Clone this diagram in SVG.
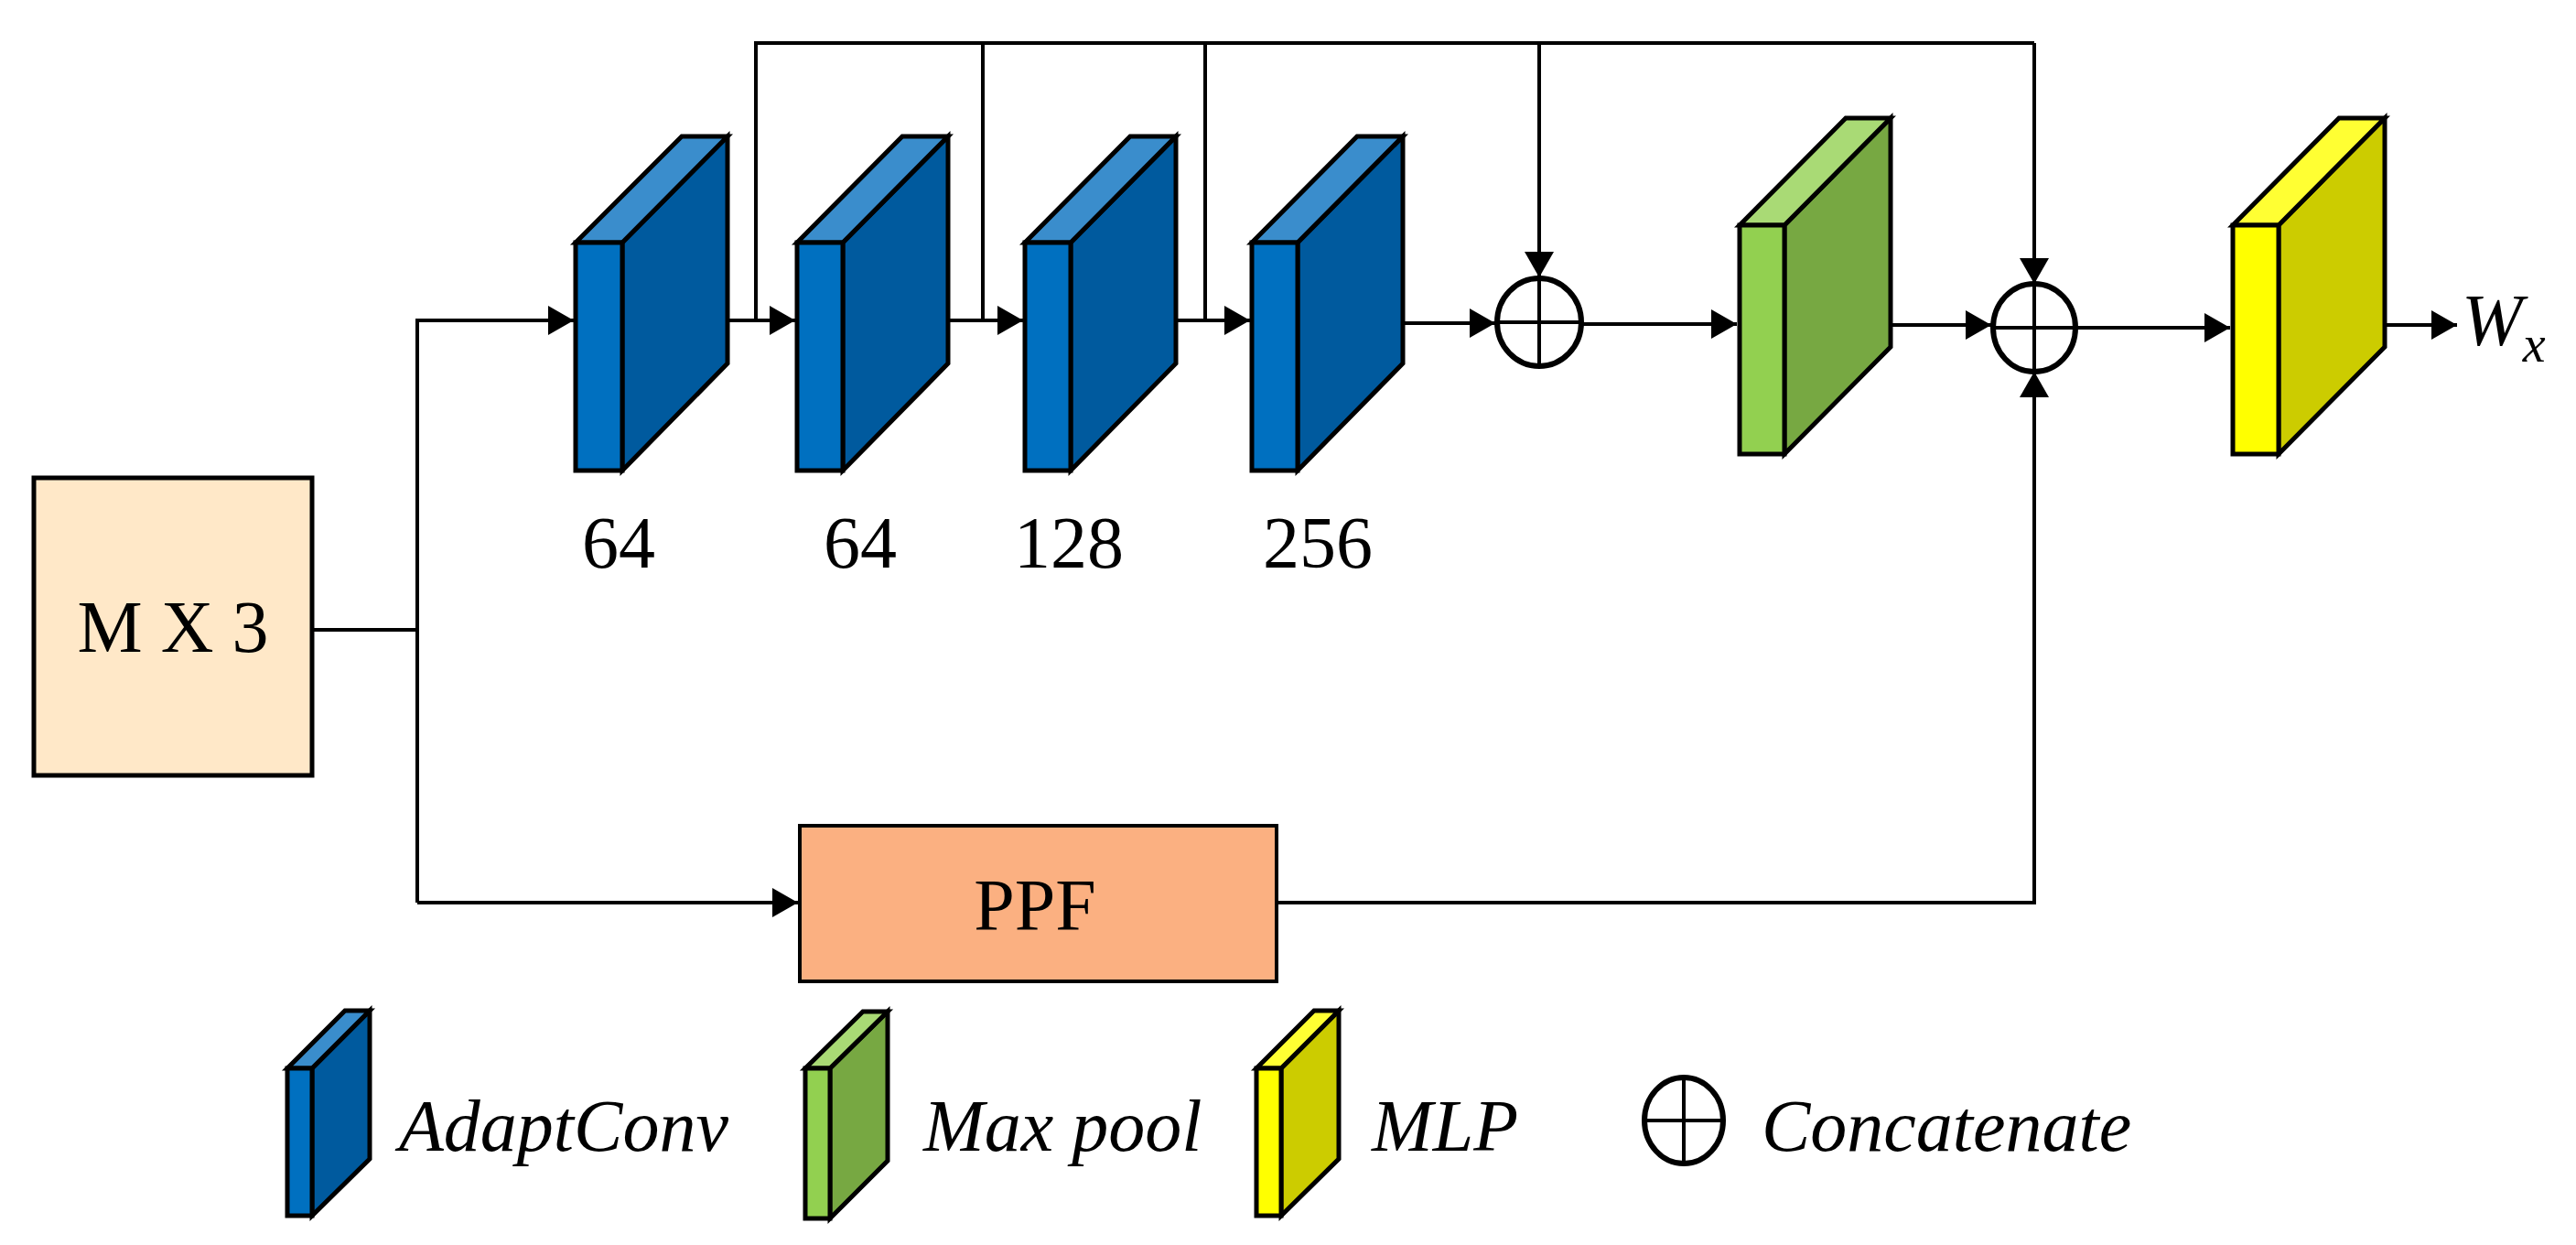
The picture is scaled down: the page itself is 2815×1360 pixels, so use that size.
<svg xmlns="http://www.w3.org/2000/svg" width="2815" height="1360" viewBox="0 0 2815 1360">
<style>
.ln{fill:none;stroke:#000;stroke-width:4}
.ar{fill:none;stroke:#000;stroke-width:4;marker-end:url(#ah)}
.bk{stroke:#000;stroke-width:5;stroke-linejoin:miter}
.t{font-family:"Liberation Serif",serif;font-size:80px;fill:#000}
.i{font-family:"Liberation Serif",serif;font-size:80px;font-style:italic;fill:#000}
.bf{fill:#0070C0}.bs{fill:#005A9E}.bt{fill:#3A8DCC}
.gf{fill:#92D050}.gs{fill:#77A842}.gt{fill:#A9DA75}
.yf{fill:#FFFF00}.ys{fill:#CCCC00}.yt{fill:#FFFF33}
</style>
<defs>
<marker id="ah" markerUnits="userSpaceOnUse" markerWidth="30" markerHeight="34" refX="28" refY="16" orient="auto"><path d="M0,0 L28,16 L0,32 z" fill="#000"/></marker>
<symbol id="blk" overflow="visible"><!-- unused --></symbol>
</defs>
<rect width="2815" height="1360" fill="#fff"/>

<g id="connectors">
<polyline class="ln" points="341,688 456,688"/>
<polyline class="ar" points="456,986 456,350 627,350"/>
<polyline class="ar" points="456,986 872,986"/>
<polyline class="ar" points="712,350 869,350"/>
<polyline class="ar" points="962,350 1118,350"/>
<polyline class="ar" points="1210,350 1366,350"/>
<polyline class="ar" points="1470,353 1634,353"/>
<polyline class="ar" points="1728,354 1898,354"/>
<polyline class="ar" points="1980,355 2176,355"/>
<polyline class="ar" points="2269,358 2437,358"/>
<polyline class="ar" points="2524,355 2685,355"/>
<polyline class="ln" points="826,350 826,47 2223,47"/>
<polyline class="ln" points="1074,47 1074,350"/>
<polyline class="ln" points="1317,47 1317,350"/>
<polyline class="ar" points="1682,47 1682,303"/>
<polyline class="ar" points="2223,47 2223,310"/>
<polyline class="ar" points="1395,986 2223,986 2223,406"/>
</g>

<g id="input">
<rect x="37" y="522" width="304" height="325" fill="#FFE8C8" stroke="#000" stroke-width="5"/>
<text class="t" x="189" y="712" text-anchor="middle">M X 3</text>
</g>

<g id="conv1">
<polygon class="bk bs" points="680,265 795,149 795,397 680,514"/>
<polygon class="bk bt" points="629,265 680,265 795,149 745,149"/>
<rect class="bk bf" x="629" y="265" width="51" height="249"/>
<text class="t" x="676" y="620" text-anchor="middle">64</text>
</g>
<g id="conv2">
<polygon class="bk bs" points="921,265 1036,149 1036,397 921,514"/>
<polygon class="bk bt" points="871,265 921,265 1036,149 986,149"/>
<rect class="bk bf" x="871" y="265" width="50" height="249"/>
<text class="t" x="940" y="620" text-anchor="middle">64</text>
</g>
<g id="conv3">
<polygon class="bk bs" points="1170,265 1285,149 1285,397 1170,514"/>
<polygon class="bk bt" points="1120,265 1170,265 1285,149 1235,149"/>
<rect class="bk bf" x="1120" y="265" width="50" height="249"/>
<text class="t" x="1168" y="620" text-anchor="middle">128</text>
</g>
<g id="conv4">
<polygon class="bk bs" points="1418,265 1533,149 1533,397 1418,514"/>
<polygon class="bk bt" points="1368,265 1418,265 1533,149 1483,149"/>
<rect class="bk bf" x="1368" y="265" width="50" height="249"/>
<text class="t" x="1440" y="620" text-anchor="middle">256</text>
</g>

<g id="concat1">
<ellipse cx="1682" cy="352" rx="46" ry="48" fill="#fff" stroke="#000" stroke-width="6"/>
<path class="ln" d="M1682,304 V400 M1636,352 H1728"/>
</g>

<g id="maxpool">
<polygon class="bk gs" points="1950,246 2066,129 2066,379 1950,496"/>
<polygon class="bk gt" points="1901,246 1950,246 2066,129 2017,129"/>
<rect class="bk gf" x="1901" y="246" width="49" height="250"/>
</g>

<g id="concat2">
<ellipse cx="2223" cy="358" rx="45" ry="48" fill="#fff" stroke="#000" stroke-width="6"/>
<path class="ln" d="M2223,310 V406 M2178,358 H2268"/>
</g>

<g id="mlp">
<polygon class="bk ys" points="2490,246 2606,129 2606,379 2490,496"/>
<polygon class="bk yt" points="2440,246 2490,246 2606,129 2556,129"/>
<rect class="bk yf" x="2440" y="246" width="50" height="250"/>
</g>

<g id="output">
<text class="i" x="2690" y="377">W<tspan font-size="56" dy="18">x</tspan></text>
</g>

<g id="ppf">
<rect x="874" y="902" width="521" height="170" fill="#FBB081" stroke="#000" stroke-width="4"/>
<text class="t" x="1131" y="1016" text-anchor="middle">PPF</text>
</g>

<g id="legend">
<polygon class="bk bs" points="341,1167 404,1104 404,1266 341,1328"/>
<polygon class="bk bt" points="314,1167 341,1167 404,1104 377,1104"/>
<rect class="bk bf" x="314" y="1167" width="27" height="161"/>
<text class="i" x="436" y="1257">AdaptConv</text>
<polygon class="bk gs" points="907,1167 970,1105 970,1268 907,1331"/>
<polygon class="bk gt" points="880,1167 907,1167 970,1105 943,1105"/>
<rect class="bk gf" x="880" y="1167" width="27" height="164"/>
<text class="i" x="1009" y="1257">Max pool</text>
<polygon class="bk ys" points="1400,1167 1463,1104 1463,1266 1400,1328"/>
<polygon class="bk yt" points="1373,1167 1400,1167 1463,1104 1436,1104"/>
<rect class="bk yf" x="1373" y="1167" width="27" height="161"/>
<text class="i" x="1499" y="1257">MLP</text>
<ellipse cx="1840" cy="1224" rx="43" ry="47" fill="#fff" stroke="#000" stroke-width="6"/>
<path class="ln" d="M1840,1177 V1271 M1797,1224 H1883"/>
<text class="i" x="1925" y="1257">Concatenate</text>
</g>
</svg>
